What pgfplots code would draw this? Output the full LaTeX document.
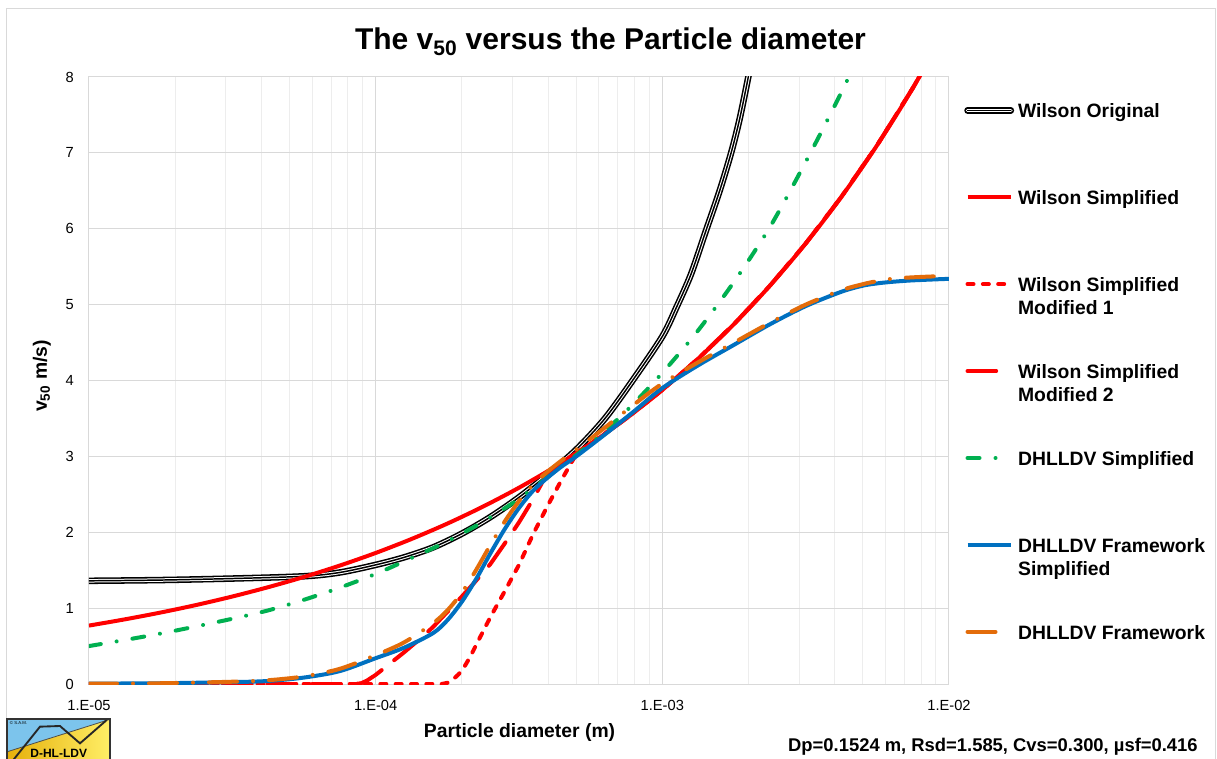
\documentclass[border=0pt]{standalone}
\usepackage{pgfplots}
\pgfplotsset{compat=1.18}
\usepackage{fontspec}
\setmainfont{Liberation Sans}
\definecolor{wred}{HTML}{FF0000}
\definecolor{dgreen}{HTML}{00B050}
\definecolor{dblue}{HTML}{0070C0}
\definecolor{dorange}{HTML}{E36C0A}
\definecolor{gridmaj}{HTML}{D9D9D9}
\definecolor{gridmin}{HTML}{EDEDED}
\definecolor{logoblue}{HTML}{7CC4EC}
\definecolor{logogold}{HTML}{E6B00A}
\definecolor{logoyellow}{HTML}{FFEE66}
\newcommand\LE[1]{\rule[-53.1pt]{0pt}{65.1pt}\begin{tabular}[t]{@{}l@{}}#1\end{tabular}}
\begin{document}
\begin{tikzpicture}
\path[use as bounding box] (-66.75pt,-55.5pt) rectangle (846pt,513pt);
\draw[gridmaj, line width=0.75pt] (-61.5pt,-57pt) -- (-61.5pt,506.25pt) -- (844.5pt,506.25pt) -- (844.5pt,-57pt);
\begin{axis}[
  scale only axis, width=645pt, height=455.25pt,
  xmode=log, xmin=1e-5, xmax=1e-2, ymin=0, ymax=8,
  xtick={1e-5,1e-4,1e-3,1e-2},
  xticklabels={1.E-05,1.E-04,1.E-03,1.E-02},
  minor xtick={2e-5,3e-5,4e-5,5e-5,6e-5,7e-5,8e-5,9e-5,2e-4,3e-4,4e-4,5e-4,6e-4,7e-4,8e-4,9e-4,2e-3,3e-3,4e-3,5e-3,6e-3,7e-3,8e-3,9e-3},
  ytick={0,1,2,3,4,5,6,7,8},
  xmajorgrids, xminorgrids, ymajorgrids,
  major grid style={gridmaj, line width=0.75pt},
  minor grid style={gridmin, line width=0.75pt},
  axis line style={gridmaj, line width=0.75pt},
  major tick length=0pt, minor tick length=0pt,
  /pgf/number format/assume math mode=true,
  tick label style={font=\fontsize{11}{13}\selectfont},
  xticklabel style={anchor=base, inner sep=0pt, yshift=-19.5pt},
  yticklabel style={anchor=east, inner sep=0pt, xshift=-11.25pt},
  legend image code/.code={\draw[#1] plot coordinates {(0pt,5.5pt) (32.5pt,5.5pt)};},
  legend style={at={(1.01744,0.9599)}, anchor=north west, draw=none, fill=none, inner sep=0pt, row sep=0pt, column sep=3pt,
    font=\bfseries\fontsize{14.5}{17.25}\selectfont,
    nodes={inner sep=0pt, text depth={}, anchor=base west}, cells={anchor=base west}},
]
% Wilson Original
\addplot[smooth, draw=black, line cap=round, line width=4.9pt, postaction={draw=white, line cap=round, line width=2.6pt}, postaction={draw=black, line cap=round, line width=1.1pt}] coordinates {
(1e-5,1.36) (1.7783e-5,1.37) (3.1623e-5,1.39) (5.6234e-5,1.42) (7.4989e-5,1.47) (1e-4,1.57) (1.2589e-4,1.67) (1.5849e-4,1.80) (1.9953e-4,1.98) (2.5119e-4,2.20) (3.1623e-4,2.46) (3.9811e-4,2.76) (5.0119e-4,3.09) (6.3096e-4,3.50) (7.9433e-4,4.02) (1e-3,4.58) (1.1220e-3,4.97) (1.2589e-3,5.40) (1.4125e-3,5.95) (1.5849e-3,6.50) (1.7378e-3,7.00) (1.8621e-3,7.45) (1.9953e-3,8.00) (2.0893e-3,8.40)};
\addlegendentry{\LE{Wilson Original}}
% Wilson Simplified
\addplot[smooth, draw=wred, line width=3pt] coordinates {
(1e-5,0.770) (1.3335e-5,0.852) (1.7783e-5,0.942) (2.3714e-5,1.042) (3.1623e-5,1.153) (4.2170e-5,1.276) (5.6234e-5,1.411) (7.4989e-5,1.561) (1e-4,1.727) (1.3335e-4,1.911) (1.7783e-4,2.114) (2.3714e-4,2.339) (3.1623e-4,2.587) (4.2170e-4,2.862) (5.6234e-4,3.167) (7.4989e-4,3.503) (1e-3,3.876) (1.3335e-3,4.288) (1.7783e-3,4.743) (2.3714e-3,5.248) (3.1623e-3,5.805) (4.2170e-3,6.422) (5.6234e-3,7.105) (7.4989e-3,7.861) (1e-2,8.697)};
\addlegendentry{\LE{Wilson Simplified}}
% Wilson Simplified Modified 1
\addplot[draw=wred, line width=3pt, line cap=round, dash pattern=on 4.5pt off 7pt] coordinates {
(1e-5,0) (3e-5,0) (1e-4,0) (1.6982e-4,0) (1.7783e-4,0.015) (1.8621e-4,0.06) (1.9498e-4,0.13) (2.0417e-4,0.23) (2.1380e-4,0.36) (2.2387e-4,0.51) (2.5119e-4,0.88) (2.8184e-4,1.22) (3.1623e-4,1.57) (3.5481e-4,1.98) (3.9811e-4,2.35) (4.4668e-4,2.70) (4.7863e-4,2.90) (5.0119e-4,3.03) (5.6234e-4,3.167) (7.4989e-4,3.503) (1e-3,3.876) (1.3335e-3,4.288) (1.7783e-3,4.743) (2.3714e-3,5.248) (3.1623e-3,5.805) (4.2170e-3,6.422) (5.6234e-3,7.105) (7.4989e-3,7.861) (1e-2,8.697)};
\addlegendentry{\LE{Wilson Simplified\\Modified 1}}
% Wilson Simplified Modified 2
\addplot[draw=wred, line width=3pt, line cap=round, dash pattern=on 21.5pt off 12pt] coordinates {
(1e-5,0) (3e-5,0) (8.5e-5,0) (8.9e-5,0.01) (9.3325e-5,0.045) (1e-4,0.12) (1.1220e-4,0.27) (1.2589e-4,0.42) (1.4125e-4,0.58) (1.5849e-4,0.75) (1.7783e-4,0.95) (1.9953e-4,1.15) (2.2387e-4,1.36) (2.5119e-4,1.58) (2.8184e-4,1.85) (3.1623e-4,2.13) (3.5481e-4,2.44) (3.8905e-4,2.72) (4.2170e-4,2.862) (5.6234e-4,3.167) (7.4989e-4,3.503) (1e-3,3.876) (1.3335e-3,4.288) (1.7783e-3,4.743) (2.3714e-3,5.248) (3.1623e-3,5.805) (4.2170e-3,6.422) (5.6234e-3,7.105) (7.4989e-3,7.861) (1e-2,8.697)};
\addlegendentry{\LE{Wilson Simplified\\Modified 2}}
% DHLLDV Simplified
\addplot[smooth, draw=dgreen, line width=3pt, line cap=round, dash pattern=on 9pt off 12pt on 0.01pt off 12pt] coordinates {
(1e-5,0.50) (1.3335e-5,0.58) (1.7783e-5,0.665) (2.3714e-5,0.76) (3.1623e-5,0.86) (4.2170e-5,0.97) (5.6234e-5,1.11) (7.4989e-5,1.27) (1e-4,1.45) (1.3335e-4,1.66) (1.7783e-4,1.88) (2.3714e-4,2.14) (3.1623e-4,2.44) (4.2170e-4,2.80) (5.6234e-4,3.17) (7.4989e-4,3.60) (1e-3,4.10) (1.3335e-3,4.66) (1.7783e-3,5.30) (2.3714e-3,6.02) (3.1623e-3,6.88) (4.2170e-3,7.80) (5.6234e-3,8.80)};
\addlegendentry{\LE{DHLLDV Simplified}}
% DHLLDV Framework Simplified
\addplot[smooth, draw=dblue, line width=3pt] coordinates {
(1e-5,0.005) (1.7783e-5,0.01) (3.1623e-5,0.025) (4.2170e-5,0.04) (5.6234e-5,0.085) (7.4989e-5,0.17) (1e-4,0.34) (1.2589e-4,0.48) (1.5849e-4,0.67) (1.7783e-4,0.84) (1.9953e-4,1.08) (2.2387e-4,1.38) (2.5119e-4,1.72) (2.8184e-4,2.04) (3.1623e-4,2.32) (3.5481e-4,2.55) (3.9811e-4,2.72) (4.4668e-4,2.87) (5.0119e-4,3.00) (6.3096e-4,3.29) (7.9433e-4,3.59) (1e-3,3.90) (1.3335e-3,4.20) (1.7783e-3,4.47) (2.3714e-3,4.74) (3.1623e-3,4.98) (4.2170e-3,5.17) (5.0119e-3,5.25) (5.6234e-3,5.28) (6.3096e-3,5.30) (7.4989e-3,5.32) (1e-2,5.34)};
\addlegendentry{\LE{DHLLDV Framework\\Simplified}}
% DHLLDV Framework
\addplot[smooth, draw=dorange, line width=3pt, line cap=round, dash pattern=on 21pt off 12pt on 0.01pt off 12pt] coordinates {
(1e-5,0.005) (1.7783e-5,0.01) (3.1623e-5,0.03) (4.2170e-5,0.05) (5.6234e-5,0.10) (7.4989e-5,0.20) (1e-4,0.38) (1.2589e-4,0.55) (1.5849e-4,0.80) (1.7783e-4,0.97) (1.9953e-4,1.20) (2.2387e-4,1.50) (2.5119e-4,1.83) (2.8184e-4,2.14) (3.1623e-4,2.41) (3.5481e-4,2.63) (3.9811e-4,2.80) (4.4668e-4,2.95) (5.0119e-4,3.09) (6.3096e-4,3.38) (7.9433e-4,3.68) (1e-3,3.96) (1.3335e-3,4.24) (1.7783e-3,4.50) (2.3714e-3,4.76) (3.1623e-3,5.00) (4.2170e-3,5.19) (5.0119e-3,5.27) (5.6234e-3,5.31) (6.3096e-3,5.34) (7.4989e-3,5.36) (1e-2,5.38)};
\addlegendentry{\LE{DHLLDV Framework}}
\end{axis}
% titles and labels
\node[anchor=base, font=\bfseries\fontsize{22.5}{27}\selectfont] at (391.1pt,475.5pt) {The v\textsubscript{50} versus the Particle diameter};
\node[rotate=90, font=\bfseries\fontsize{14.5}{17}\selectfont] at (-35.25pt,231pt) {v\textsubscript{50} m/s)};
\node[anchor=base, font=\bfseries\fontsize{14.5}{17}\selectfont] at (322.9pt,-39.75pt) {Particle diameter (m)};
\node[anchor=base east, inner sep=0pt, font=\bfseries\fontsize{13.8}{16}\selectfont] at (831.75pt,-50.25pt) {Dp=0.1524 m, Rsd=1.585, Cvs=0.300, µsf=0.416};
% logo
\fill[logoblue] (-61.3pt,-26.5pt) -- (15.75pt,-26.5pt) -- (-61.3pt,-50.8pt) -- cycle;
\shade[left color=logogold, right color=logoyellow] (-61.3pt,-50.8pt) -- (15.75pt,-26.5pt) -- (15.75pt,-58pt) -- (-61.3pt,-58pt) -- cycle;
\draw[black!70, line width=0.6pt] (-61.3pt,-50.8pt) -- (15.75pt,-26.5pt);
\draw[black!85, line width=1.4pt, line join=miter] (-56.8pt,-57pt) -- (-36.75pt,-32pt) -- (-21.75pt,-31.5pt) -- (-6.75pt,-44.5pt) -- (13.3pt,-27pt);
\draw[black!80, line width=1.5pt] (-61.3pt,-58pt) -- (-61.3pt,-26.5pt) -- (15.75pt,-26.5pt) -- (15.75pt,-58pt);
\node[anchor=base, inner sep=0pt, font=\bfseries\fontsize{9}{10}\selectfont] at (-22.7pt,-54.9pt) {D-HL-LDV};
\node[anchor=west, inner sep=0pt, font=\fontsize{3.2}{4}\selectfont] at (-59.5pt,-29.5pt) {© S.A.M.};
\end{tikzpicture}
\end{document}
